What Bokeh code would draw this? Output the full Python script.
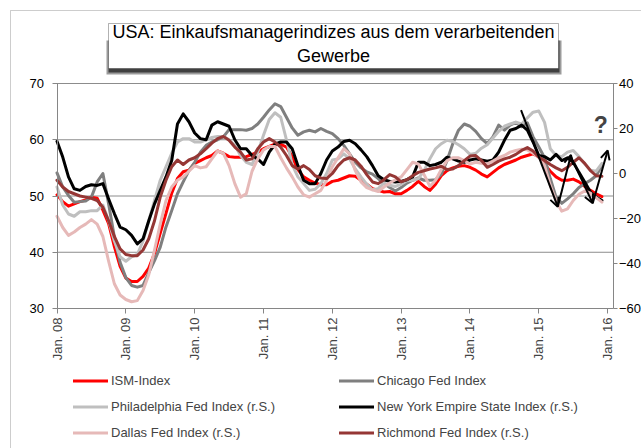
import math
from bokeh.plotting import figure
from bokeh.models import (Range1d, LinearAxis, FixedTicker, Legend, LegendItem,
                          Label, Arrow, OpenHead, BoxAnnotation)
from bokeh.embed import file_html
from bokeh.resources import INLINE

# ---------------- data (monthly, Jan 2008 .. Dec 2015) ----------------
tick_labels = ["Jan. 08", "Jan. 09", "Jan. 10", "Jan. 11", "Jan. 12",
               "Jan. 13", "Jan. 14", "Jan. 15", "Jan. 16"]
months = list(range(96))  # month index, 0 = Jan 2008

# left axis (index points)
ism = [50.2, 49.0, 48.2, 48.6, 49.0, 49.3, 49.8, 49.6, 47.5, 45.1, 41.0, 37.5,
       35.4, 34.8, 34.8, 35.7, 37.2, 39.8, 43.4, 46.9, 50.5, 53.1, 54.3, 54.6,
       55.8, 56.3, 56.8, 57.2, 58.0, 57.6, 57.0, 56.9, 56.9, 57.0, 57.4, 57.8,
       58.4, 58.8, 59.2, 59.2, 58.7, 57.0, 54.7, 53.4, 52.8, 52.3, 52.0, 52.0,
       52.6, 52.8, 53.2, 53.6, 53.5, 52.8, 52.1, 51.3, 51.0, 50.7, 50.8, 50.4,
       50.4, 51.0, 51.7, 52.6, 51.7, 51.0, 52.1, 53.6, 54.5, 55.0, 55.3, 55.4,
       55.1, 54.6, 53.9, 53.4, 54.2, 55.0, 55.6, 56.0, 56.4, 56.9, 57.2, 57.5,
       57.0, 55.6, 54.4, 53.4, 52.8, 52.8, 53.0, 52.5, 51.7, 51.0, 50.4, 49.9]

chicago = [54.1, 51.6, 50.1, 48.9, 49.0, 49.1, 49.8, 52.5, 54.0, 48.6, 42.7, 38.2,
           35.5, 34.1, 33.8, 34.1, 36.4, 38.5, 40.9, 44.5, 47.4, 50.4, 52.5, 54.5,
           56.0, 57.8, 59.0, 59.6, 60.0, 60.5, 61.8, 61.8, 61.8, 61.7, 62.0, 62.8,
           64.0, 65.3, 66.4, 65.9, 64.0, 62.1, 60.8, 61.4, 61.7, 61.4, 62.0, 61.5,
           61.1, 60.2, 59.0, 57.5, 56.0, 55.0, 54.3, 53.9, 53.1, 52.2, 51.5, 50.9,
           51.5, 52.3, 52.8, 53.2, 52.8, 52.8, 52.9, 53.9, 56.3, 59.3, 61.7, 62.8,
           62.4, 61.5, 60.2, 59.3, 60.5, 62.6, 61.7, 62.6, 63.1, 62.3, 63.0, 60.5,
           58.7, 56.8, 53.1, 49.8, 48.7, 49.5, 50.4, 51.5, 52.2, 52.8, 53.6, 55.4]

# right axis (balance points, r.S.)
philadelphia = [-6, -14, -18, -19, -17, -17, -16.5, -16.5, -14, -21, -30, -37,
                -39, -37, -36, -30, -21, -12, -3, 3, 9, 14, 15.5, 15.5,
                14, 14, 15, 16, 16.5, 16.5, 15, 12.5, 8, 5, 4, 9.5,
                17, 24, 27, 25, 15, 4, -1.5, -4.5, -7.5, -7, -4.5, 0,
                6, 6.5, 8.75, 6.5, 2, -1.5, -4.75, -7.25, -6.75, -4.25, -5.25, -5.75,
                -4.75, -3.25, -3, -2.25, 1.25, 6.5, 11, 13.25, 14.75, 14.25, 12.75, 11,
                8.5, 9, 11.25, 12.75, 15.75, 18.75, 21, 22, 22.75, 22, 24.75, 27.25,
                27.75, 22.75, 11, 8, 7.5, 9.5, 10.25, 7.5, 4.25, 1.5, 1, 4.5]

new_york = [14.3, 7.3, -1.5, -6.8, -7.5, -5.8, -5, -5.3, -4.5, -11.3, -17.8, -23.8,
            -25, -27.5, -31.3, -29, -21, -13.5, -7.5, -1.5, 5.8, 22, 26.5, 23,
            18, 15.5, 15, 21.5, 23, 22, 21, 15, 11, 11, 8, 6.5,
            4, 9.5, 13, 14, 14, 11, 3.5, -3, -4.5, -4.5, 0, 6,
            10, 11.75, 14.25, 14.75, 13.25, 10.5, 7.5, 3.5, -1, -2.75, -3.5, -3.75,
            -3.5, -2.75, -1.5, 5, 5, 3.5, 4, 5, 7.25, 6.5, 5.5, 5,
            6, 6.5, 6, 5.5, 6, 9.5, 14.75, 19.25, 20, 21.5, 19.25, 14,
            8, 7.5, 6, 8.5, 5.75, 7, 5, 0.5, -3.75, -8.25, -10.5, -12]

dallas = [-19, -24, -27.5, -26, -24, -22.5, -20.5, -22.5, -28, -39, -49, -54,
          -56, -57, -56.5, -52, -45, -34, -22.5, -12, -6, -3, -1.5, 1,
          3.5, 2.5, 3, 6.5, 10, 9, 3.5, -4.5, -10.5, -9, 1, 6.5,
          10.5, 12, 12, 7, 2.5, -1.5, -6, -9.5, -10.5, -9, -7.5, -3,
          3, 7, 11, 8.75, 1.25, -3.75, -6.25, -7.25, -8, -6, -4.25, -2.75,
          -1.5, 1.75, 5, 4.25, -0.5, -5.75, -3, 1.75, 5.75, 7, 7, 5.75,
          4.25, 5, 4.5, 4.25, 5.5, 7, 8, 9.5, 10.25, 10.75, 10.5, 9,
          7.25, 3.5, -5.25, -12.25, -16.75, -15.75, -12, -9.25, -7.75, -8.75, -10.75, -12.75]

richmond = [-3, -6, -8, -9, -10, -10.5, -11, -12, -15, -21, -28, -33.5,
            -36, -36.5, -36.5, -34, -29, -21, -10.5, -3, 3, 6, 4, 6,
            7, 8.75, 11, 13.5, 15.5, 16.5, 14.75, 11.75, 9.5, 6, 6.5, 11,
            14, 15.5, 14, 11.75, 8, 3.5, 2, 3.5, 1.75, -1, -2, -2.25,
            0, 3.5, 6, 7, 6, 3.25, -0.5, -3.75, -4.5, -2.75, -0.5, -1.5,
            -3.75, -2.75, -1, 0.5, 1.25, 2, 2.5, 3.25, 1.75, 2, 3.5, 5.75,
            7.75, 8, 5.75, 2.75, 4, 5.5, 6.5, 7.25, 8.5, 10.25, 11.5, 10,
            7.25, 5.75, 4, 2.5, 1.25, 2.75, 5, 7, 4.5, 1.25, -1, -1.25]

# axis extents
left_ticks = [30, 40, 50, 60, 70]
right_ticks = [-60, -40, -20, 0, 20, 40]
grid_values = [40, 50, 60, 70]
x_end = 97.1  # right edge of plot area (month index)

# hand-drawn annotation arrows (month index, left-axis value)
arrows = [((80.9, 65.25), (87.3, 48.1)),
          ((87.3, 48.1), (89.6, 57.3)),
          ((89.6, 57.0), (93.4, 48.7)),
          ((93.4, 48.7), (96.0, 58.1))]
question_pos = (94.8, 62.7)

FONT = "Liberation Sans"
AX = "#868686"
W, H = 641, 448

# page geometry of plot area: x=0 at 56.5px, 5.736 px / month; 70 at 83px, 30 at 308px
PX_M = 5.736
X0_PX = 56.5
PX_U = 5.625
xr = Range1d(-X0_PX / PX_M, (W - X0_PX) / PX_M)
yr = Range1d(30 - (H - 308) / PX_U, 70 + 83 / PX_U)
rs_lo, rs_hi = (yr.start - 54) * 2.5, (yr.end - 54) * 2.5

p = figure(width=W, height=H, output_backend="svg", toolbar_location=None,
           x_range=xr, y_range=yr, min_border=0,
           min_border_left=0, min_border_right=0, min_border_top=0, min_border_bottom=0)
p.background_fill_color = "white"
p.border_fill_color = "white"
p.outline_line_color = None
p.xgrid.visible = False
p.ygrid.visible = False
p.extra_y_ranges = {"rs": Range1d(rs_lo, rs_hi)}


def screen_box(left, top, right, bottom, **kw):
    """Box given in page pixels (top-left origin)."""
    return BoxAnnotation(left=left, right=right, top=H - top, bottom=H - bottom,
                         left_units="screen", right_units="screen",
                         top_units="screen", bottom_units="screen", **kw)


# outer chart-area frame (top / left edges visible)
p.add_layout(screen_box(10, 10, W + 20, H + 20, fill_alpha=0,
                        line_color="#5a5a5a", line_width=1))

# horizontal grid lines
p.segment(x0=[0] * len(grid_values), x1=[x_end] * len(grid_values),
          y0=grid_values, y1=grid_values, line_color="#8c8c8c", line_width=1)

# axes
la = p.left[0]
la.ticker = FixedTicker(ticks=left_ticks)
la.fixed_location = 0
la.bounds = (left_ticks[0], left_ticks[-1])
ra = LinearAxis(y_range_name="rs", ticker=FixedTicker(ticks=right_ticks),
                fixed_location=x_end, bounds=(right_ticks[0], right_ticks[-1]))
p.add_layout(ra, "right")
for ax in (la, ra):
    ax.axis_line_color = AX
    ax.major_tick_line_color = AX
    ax.major_tick_out = 5
    ax.major_tick_in = 0
    ax.minor_tick_line_color = None
    ax.major_label_text_font = FONT
    ax.major_label_text_font_size = "13px"
    ax.major_label_text_color = "black"
la.major_label_standoff = 8
ra.major_tick_out = 4
ra.major_label_standoff = 1

xa = p.below[0]
xa.ticker = FixedTicker(ticks=[12 * k for k in range(len(tick_labels))])
xa.major_label_overrides = {12 * k: lab for k, lab in enumerate(tick_labels)}
xa.major_label_orientation = math.pi / 2
xa.fixed_location = left_ticks[0]
xa.bounds = (0, x_end)
xa.axis_line_color = AX
xa.major_tick_line_color = AX
xa.major_tick_out = 5
xa.major_tick_in = 0
xa.minor_tick_line_color = None
xa.major_label_text_font = FONT
xa.major_label_text_font_size = "13px"
xa.major_label_standoff = 4

LW = 3
style = dict(line_width=LW, line_join="round", line_cap="round")
r_ism = p.line(months, ism, line_color="#FF0000", **style)
r_chi = p.line(months, chicago, line_color="#7F7F7F", **style)
r_phi = p.line(months, philadelphia, line_color="#BFBFBF", y_range_name="rs", **style)
r_ny = p.line(months, new_york, line_color="#000000", y_range_name="rs", **style)
r_dal = p.line(months, dallas, line_color="#E6B9B8", y_range_name="rs", **style)
r_ric = p.line(months, richmond, line_color="#953735", y_range_name="rs", **style)

for (x0, y0), (x1, y1) in arrows:
    p.add_layout(Arrow(end=OpenHead(size=9, line_width=2, line_color="black"),
                       x_start=x0, y_start=y0, x_end=x1, y_end=y1,
                       line_width=2, line_color="black"))

p.add_layout(Label(x=question_pos[0], y=question_pos[1], text="?",
                   text_font=FONT, text_font_size="23px", text_font_style="bold",
                   text_align="center", text_baseline="middle"))

def make_legend(items, x):
    return Legend(items=items, location=(x, H - 443), orientation="vertical",
                  glyph_width=35, glyph_height=21, label_height=21, spacing=5,
                  padding=0, margin=0, border_line_color=None,
                  background_fill_alpha=0, label_text_font=FONT,
                  label_text_font_size="13px", label_standoff=3)

p.add_layout(make_legend([LegendItem(label="ISM-Index", renderers=[r_ism]),
                          LegendItem(label="Philadelphia Fed Index (r.S.)", renderers=[r_phi]),
                          LegendItem(label="Dallas Fed Index (r.S.)", renderers=[r_dal])], 73))
p.add_layout(make_legend([LegendItem(label="Chicago Fed Index", renderers=[r_chi]),
                          LegendItem(label="New York Empire State Index (r.S.)", renderers=[r_ny]),
                          LegendItem(label="Richmond Fed Index (r.S.)", renderers=[r_ric])], 339))

# title box with drop shadow (shadow shows mainly below the box)
p.add_layout(screen_box(106, 40, 561, 74, fill_color="#222222", fill_alpha=0.45, line_alpha=0))
p.add_layout(screen_box(108, 40, 559, 72, fill_color="#222222", fill_alpha=0.75, line_alpha=0))
p.add_layout(screen_box(108, 23, 558, 68, fill_color="white", fill_alpha=1,
                        line_color="black", line_width=1))
p.add_layout(Label(x=333, y=H - 43.5, x_units="screen", y_units="screen",
                   text="USA: Einkaufsmanagerindizes aus dem verarbeitenden\nGewerbe",
                   text_font=FONT, text_font_size="18px", text_align="center",
                   text_baseline="middle", anchor="center", text_color="black"))

open("out.html", "w").write(file_html(p, INLINE))
